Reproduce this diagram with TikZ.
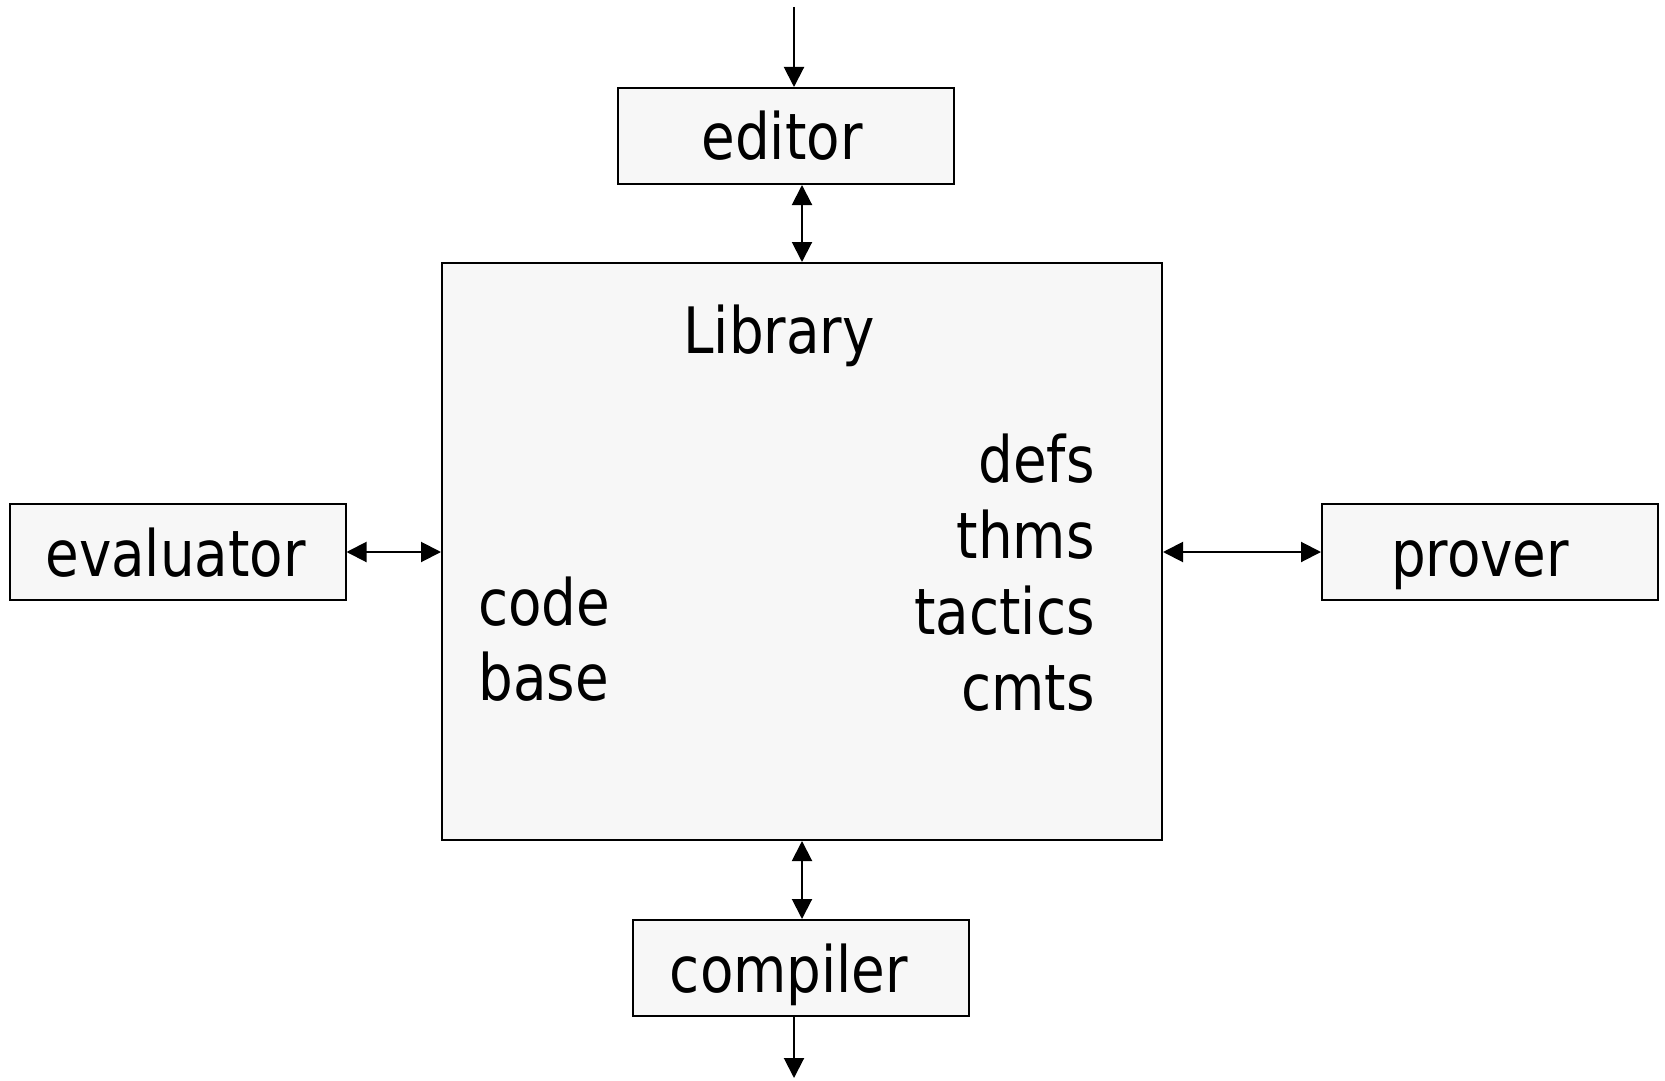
\documentclass[tikz,border=0pt]{standalone}
\usepackage{fontspec}
\setmainfont{DejaVu Sans Condensed}[FakeStretch=0.95]
\usetikzlibrary{arrows.meta}

\definecolor{boxfill}{HTML}{F7F7F7}

\tikzset{
  px/.style={x=0.5pt,y=-0.5pt},
  tool/.style={draw=black,line width=1pt,fill=boxfill,minimum width=168pt,
    minimum height=48pt,inner sep=0pt,text height=24pt,text depth=0pt,
    font=\fontsize{32}{38}\selectfont},
  libbox/.style={draw=black,line width=1pt,fill=boxfill},
  libtext/.style={inner sep=0pt,font=\fontsize{32}{38}\selectfont},
  link/.style={line width=1pt,{Triangle[length=10pt,width=10pt]}-{Triangle[length=10pt,width=10pt]}},
  flow/.style={line width=1pt,-{Triangle[length=10pt,width=10pt]}}
}

\begin{document}
\begin{tikzpicture}[px]
  \useasboundingbox (0,0) rectangle (1665,1081);

  % central library
  \node[libbox,minimum width=360pt,minimum height=288.5pt,inner sep=0pt] (lib) at (802,551.5) {};
  \node[libtext,anchor=base] (libtitle) at (779,353) {Library};
  \node[libtext,anchor=base west] (code) at (478,625) {code};
  \node[libtext,anchor=base west] (base) at (478,700) {base};
  \node[libtext,anchor=base east] (defs) at (1095,482) {defs};
  \node[libtext,anchor=base east] (thms) at (1095,558) {thms};
  \node[libtext,anchor=base east] (tactics) at (1095,634) {tactics};
  \node[libtext,anchor=base east] (cmts) at (1095,710) {cmts};

  % surrounding tools
  \node[tool] (editor) at (786,136) {editor\kern4pt};
  \node[tool] (eval) at (177.5,552) {evaluator\kern2pt};
  \node[tool] (prover) at (1490,552) {prover\kern10pt};
  \node[tool] (compiler) at (801,968) {compiler\kern12pt};

  % external input and output
  \coordinate (src) at (794,7);
  \coordinate (sink) at (794,1078);

  % connectors
  \draw[flow] (src) -- (src |- editor.north);
  \draw[link] (lib.north) -- (lib.north |- editor.south);
  \draw[link] (eval.east) -- (eval.east -| lib.west);
  \draw[link] (lib.east |- prover.west) -- (prover.west);
  \draw[link] (lib.south) -- (lib.south |- compiler.north);
  \draw[flow] (sink |- compiler.south) -- (sink);
\end{tikzpicture}
\end{document}
